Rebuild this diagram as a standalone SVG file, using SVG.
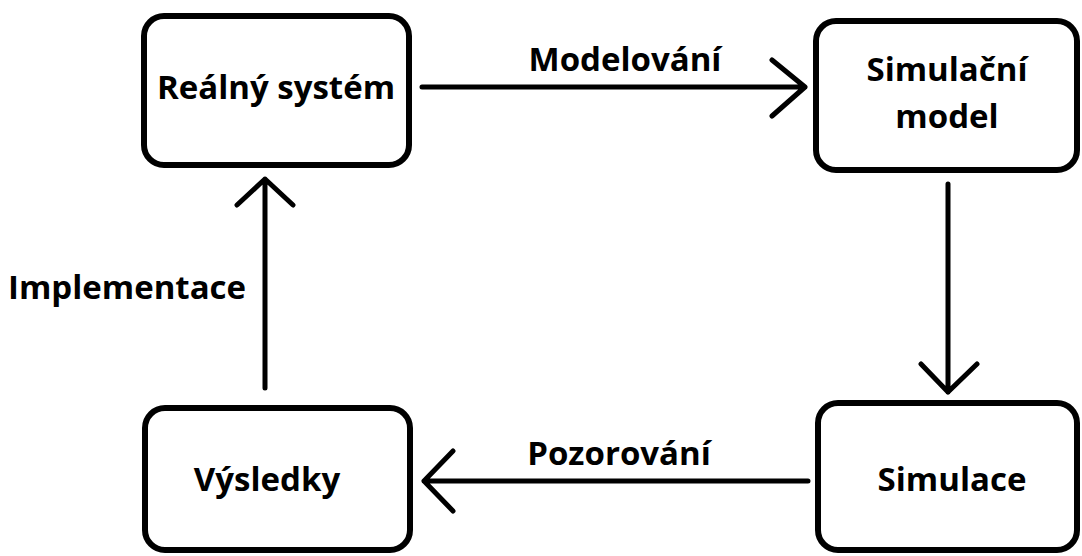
<svg xmlns="http://www.w3.org/2000/svg" width="1082" height="556" viewBox="0 0 1082 556">
<style>
.box{fill:#fff;stroke:#000;stroke-width:6}
.t{font-family:"Open Sans","Noto Sans",sans-serif;font-weight:bold;font-size:33px;fill:#000;text-anchor:middle}
.c{fill:none;stroke:#000;stroke-width:5;stroke-linecap:round;stroke-linejoin:round}
</style>
<rect width="1082" height="556" fill="#fff"/>
<g id="connectors">
<path class="c" d="M422 87H805M772 60L805 87L772 116"/>
<path class="c" d="M948 184V392M921 364L948 392L977 364"/>
<path class="c" d="M808 481H424M453 451L424 481L453 511"/>
<path class="c" d="M265 388V179M237 205L265 179L293 205"/>
<text class="t" x="625" y="71">Modelování</text>
<text class="t" x="619" y="465">Pozorování</text>
<text class="t" x="127" y="299">Implementace</text>
</g>
<g id="realny-system">
<rect class="box" x="144" y="16" width="265" height="149" rx="20"/>
<text class="t" x="276" y="99">Reálný systém</text>
</g>
<g id="simulacni-model">
<rect class="box" x="816" y="21" width="261" height="149" rx="20"/>
<text class="t" x="947" y="81">Simulační</text>
<text class="t" x="947" y="128">model</text>
</g>
<g id="vysledky">
<rect class="box" x="145" y="408" width="265" height="142" rx="20"/>
<text class="t" x="267" y="491">Výsledky</text>
</g>
<g id="simulace">
<rect class="box" x="818" y="403" width="259" height="147" rx="20"/>
<text class="t" x="952" y="491">Simulace</text>
</g>
</svg>
